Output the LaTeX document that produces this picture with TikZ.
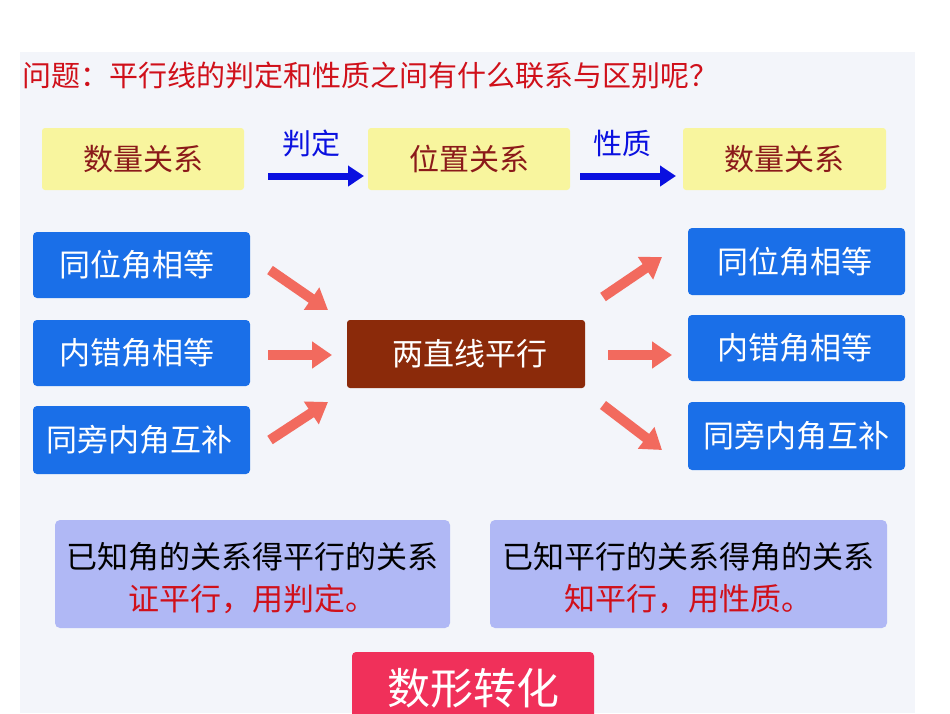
\documentclass[tikz,border=0pt]{standalone}
\usepackage{fontspec}
\setmainfont{Noto Sans CJK SC}
\usetikzlibrary{arrows.meta}
\definecolor{bg}{HTML}{F3F5FA}
\definecolor{ttl}{HTML}{D0101A}
\definecolor{yel}{HTML}{F8F59E}
\definecolor{brn}{HTML}{8B1A1A}
\definecolor{blu}{HTML}{1A6FE8}
\definecolor{arrb}{HTML}{0A10E0}
\definecolor{mahog}{HTML}{8B2A0A}
\definecolor{salm}{HTML}{F26A5E}
\definecolor{lav}{HTML}{B0B8F5}
\definecolor{pnk}{HTML}{F0305A}
\begin{document}
\begin{tikzpicture}[x=1pt,y=-1pt,
  ytxt/.style={text=brn,font=\fontsize{30}{32}\selectfont},
  wtxt/.style={text=white,font=\fontsize{31}{33}\selectfont},
  barr/.style={draw=arrb,line width=7pt,-{Triangle[width=20pt,length=16pt]}},
  sarr/.style={draw=salm,line width=10pt,-{Triangle[width=26pt,length=20pt]}},
  blab/.style={text=arrb,font=\fontsize{29}{31}\selectfont}]
\useasboundingbox (0,0) rectangle (950,713);
\fill[white] (0,0) rectangle (950,713);
\fill[bg] (20,52) rectangle (915,713);
\node[anchor=west,inner sep=0pt,text=ttl,font=\fontsize{29}{31}\selectfont] (title) at (22,75) {问题：平行线的判定和性质之间有什么联系与区别呢？};
% yellow
\fill[yel,rounded corners=3pt] (42,128) rectangle (244,190); \node[ytxt] (y1) at (143,159) {数量关系};
\fill[yel,rounded corners=3pt] (368,128) rectangle (570,190); \node[ytxt] (y2) at (469,159) {位置关系};
\fill[yel,rounded corners=3pt] (683,128) rectangle (886,190); \node[ytxt] (y3) at (784,159) {数量关系};
\coordinate (a1s) at (268,176); \coordinate (a1e) at (364,176);
\coordinate (a2s) at (580,176); \coordinate (a2e) at (676,176);
\draw[barr] (a1s) -- (a1e); \draw[barr] (a2s) -- (a2e);
\node[blab] (l1) at (311,143) {判定};
\node[blab] (l2) at (622,143) {性质};
% blue left
\fill[blu,rounded corners=4pt] (33,232) rectangle (250,298); \node[wtxt] (b1) at (137,265) {同位角相等};
\fill[blu,rounded corners=4pt] (33,320) rectangle (250,386); \node[wtxt] (b2) at (137,353) {内错角相等};
\fill[blu,rounded corners=4pt] (33,406) rectangle (250,474); \node[wtxt] (b3) at (139,440) {同旁内角互补};
% blue right
\fill[blu,rounded corners=4pt] (688,228) rectangle (905,295); \node[wtxt] (r1) at (795,262) {同位角相等};
\fill[blu,rounded corners=4pt] (688,315) rectangle (905,381); \node[wtxt] (r2) at (795,348) {内错角相等};
\fill[blu,rounded corners=4pt] (688,402) rectangle (905,470); \node[wtxt] (r3) at (796,436) {同旁内角互补};
% center
\fill[mahog,rounded corners=3pt] (347,320) rectangle (585,388);
\node[wtxt] (c) at (470,354) {两直线平行};
% salmon arrows
\coordinate (s1) at (270,270); \coordinate (e1) at (328,310);
\coordinate (s2) at (268,355); \coordinate (e2) at (332,355);
\coordinate (s3) at (270,440); \coordinate (e3) at (328,402);
\coordinate (s4) at (603,297); \coordinate (e4) at (662,257);
\coordinate (s5) at (608,355); \coordinate (e5) at (672,355);
\coordinate (s6) at (603,405); \coordinate (e6) at (662,450);
\foreach \s/\e in {s1/e1,s2/e2,s3/e3,s4/e4,s5/e5,s6/e6} \draw[sarr] (\s) -- (\e);
% lavender
\fill[lav,rounded corners=5pt] (55,520) rectangle (450,628);
\node[align=center,font=\fontsize{31}{42}\selectfont] (t1) at (252,578) {已知角的关系得平行的关系\\\textcolor{ttl}{证平行，用判定。}};
\fill[lav,rounded corners=5pt] (490,520) rectangle (887,628);
\node[align=center,font=\fontsize{31}{42}\selectfont] (t2) at (688,578) {已知平行的关系得角的关系\\\textcolor{ttl}{知平行，用性质。}};
% pink
\fill[pnk,rounded corners=4pt] (352,652) rectangle (594,720);
\node[text=white,font=\fontsize{43}{45}\selectfont] (p) at (473,688) {数形转化};
\end{tikzpicture}
\end{document}
